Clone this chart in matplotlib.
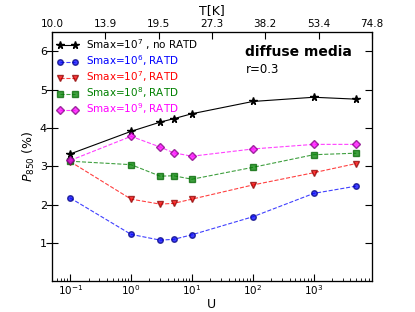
import matplotlib
matplotlib.use("Agg")
import matplotlib.pyplot as plt
import numpy as np

U = [0.1, 1, 3, 5, 10, 100, 1000, 5000]
p_norat = [3.32, 3.91, 4.15, 4.24, 4.37, 4.69, 4.80, 4.75]
p_s6 = [2.17, 1.22, 1.07, 1.09, 1.21, 1.68, 2.29, 2.48]
p_s7 = [3.12, 2.14, 2.01, 2.03, 2.14, 2.51, 2.83, 3.07]
p_s8 = [3.13, 3.04, 2.74, 2.75, 2.66, 2.97, 3.30, 3.34]
p_s9 = [3.15, 3.78, 3.50, 3.35, 3.26, 3.45, 3.57, 3.57]

fig = plt.figure(figsize=(4.15, 3.12), dpi=100)
ax = fig.add_axes([0.125, 0.099, 0.771, 0.798])

ax.plot(U, p_norat, '-', color='k', lw=0.8, marker='*', ms=5.5, label='Smax=10$^7$ , no RATD')
ax.plot(U, p_s6, '--', color='b', lw=0.8, alpha=0.75, marker='o', ms=4, mfc='b', mec='navy',
        label='Smax=10$^6$, RATD')
ax.plot(U, p_s7, '--', color='r', lw=0.8, alpha=0.75, marker='v', ms=4, mfc='r', mec='darkred',
        label='Smax=10$^7$, RATD')
ax.plot(U, p_s8, '--', color='g', lw=0.8, alpha=0.75, marker='s', ms=4, mfc='g', mec='darkgreen',
        label='Smax=10$^8$, RATD')
ax.plot(U, p_s9, '--', color='magenta', lw=0.8, alpha=0.75, marker='D', ms=4, mfc='magenta',
        mec='purple', label='Smax=10$^9$, RATD')

ax.set_xscale('log')
ax.set_xlim(0.05, 9000)
ax.set_ylim(0, 6.5)
ax.set_xticks([0.1, 1, 10, 100, 1000])
ax.set_yticks([1, 2, 3, 4, 5, 6])
ax.set_xlabel('U', fontsize=9, labelpad=1)
ax.set_ylabel('$P_{850}$ (%)', fontsize=9)
ax.yaxis.set_label_coords(-0.045, 0.5)
ax.tick_params(axis='x', which='both', direction='in', labelsize=7.5, pad=1.5)
ax.tick_params(axis='x', which='major', length=5)
ax.tick_params(axis='x', which='minor', length=2.5)
ax.tick_params(axis='y', which='major', direction='inout', labelsize=8, length=8, pad=-0.5)

leg = ax.legend(loc='upper left', frameon=False, fontsize=7.5, numpoints=2, handlelength=2,
                borderaxespad=0.3, labelspacing=0.12, handletextpad=0.8, borderpad=0.2)
for txt, line in zip(leg.get_texts(), leg.get_lines()):
    txt.set_color(line.get_color())

ax.text(0.605, 0.92, 'diffuse media', transform=ax.transAxes, fontsize=10, fontweight='bold', va='center')
ax.text(0.605, 0.85, 'r=0.3', transform=ax.transAxes, fontsize=8.5, va='center')

# top axis: dust temperature T = 16.4 U^(1/6)
ax2 = ax.twiny()
ax2.set_xscale('log')
ax2.set_xlim(ax.get_xlim())
tpos = np.logspace(np.log10(0.05), np.log10(9000), 7)
ax2.set_xticks(tpos)
ax2.set_xticklabels(['%.1f' % (16.4 * u ** (1 / 6.)) for u in tpos])
ax2.minorticks_off()
ax2.tick_params(axis='x', direction='in', labelsize=7.5, length=5, pad=2)
fig.text(0.511, 1 - 11 / 312., 'T[K]', fontsize=9, ha='center', va='center')

# right side ticks
ax3 = ax.twinx()
ax3.set_ylim(ax.get_ylim())
ax3.set_yticks([1, 2, 3, 4, 5, 6])
ax3.tick_params(axis='y', direction='in', length=5, labelright=False)

fig.savefig('out.png', dpi=100)
